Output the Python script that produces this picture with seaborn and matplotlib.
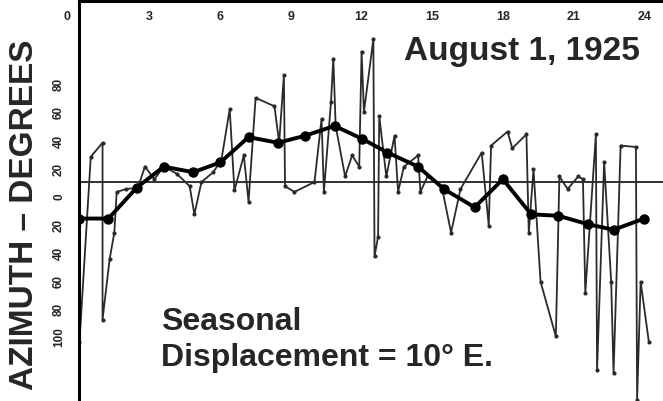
import matplotlib
matplotlib.use("Agg")
import matplotlib.pyplot as plt
import matplotlib.transforms as mtransforms
import seaborn as sns
import pandas as pd

# Raw (individual) azimuth readings, hours and degrees (E positive)
raw_hours = [0.02, 0.5, 1.0, 1.0, 1.3, 1.5, 1.6, 2.0, 2.5, 2.8, 3.2, 3.6, 4.15, 4.7,
             4.9, 5.2, 5.7, 6.05, 6.4, 6.6, 7.0, 7.2, 7.5, 8.3, 8.5, 8.7, 8.75, 9.15,
             10.0, 10.3, 10.4, 10.7, 10.8, 10.9, 11.3, 11.6, 11.9, 12.0, 12.1, 12.5,
             12.55, 12.7, 12.75, 13.05, 13.4, 13.55, 13.8, 14.4, 14.5, 14.8, 15.4,
             15.8, 16.2, 17.1, 17.4, 17.5, 18.2, 18.4, 19.0, 19.1, 19.3, 19.6, 20.25,
             20.4, 20.75, 21.2, 21.4, 21.5, 21.95, 22.0, 22.3, 22.6, 22.7, 23.0,
             23.65, 23.7, 23.85, 24.2]
raw_azimuth = [-104, 28, 38, -88, -45, -26, 3, 5, 6, 21, 12, 21, 16, 7,
               -13, 10, 17, 26, 62, 4, 29, -4, 70, 64, 38, 86, 7, 3,
               10, 55, 3, 67, 98, 50, 14, 29, 21, 103, 60, 112,
               -43, -29, 57, 14, 43, 3, 21, 29, 3, 14, 7,
               -26, 5, 31, -21, 36, 46, 34, 44, -26, 19, -61, -100,
               14, 5, 14, 12, -69, 44, -124, 24, -61, -126, 36,
               35, -145, -61, -104]

# Smoothed (mean) azimuth curve
mean_hours = [0.0, 1.25, 2.45, 3.6, 4.85, 6.0, 7.2, 8.45, 9.6, 10.85, 12.0, 13.1,
              14.4, 15.5, 16.8, 18.0, 19.2, 20.35, 21.6, 22.7, 24.0]
mean_azimuth = [-16, -16, 6, 21, 17, 24, 42, 38, 43, 50, 41, 31,
                21, 5, -8, 12, -13, -14, -20, -24, -16]

seasonal_displacement = 10

x_ticks = [0, 3, 6, 9, 12, 15, 18, 21, 24]
y_ticks = [80, 60, 40, 20, 0, -20, -40, -60, -80, -100]
y_tick_labels = ["80", "60", "40", "20", "0", "20", "40", "60", "80", "100"]

title_text = "August 1, 1925"
y_label = "AZIMUTH \u2013 DEGREES"

sns.set_style("white")
plt.rcParams['font.family'] = ['Liberation Sans', 'DejaVu Sans']
plt.rcParams['font.weight'] = 'bold'

fig = plt.figure(figsize=(6.63, 4.02), dpi=100)
ax = fig.add_axes([79 / 663, 0.0, 1 - 79 / 663, 1 - 2 / 402])

raw_df = pd.DataFrame({"hour": raw_hours, "azimuth": raw_azimuth})
mean_df = pd.DataFrame({"hour": mean_hours, "azimuth": mean_azimuth})

ax.axhline(seasonal_displacement, color="#222222", lw=1.3, zorder=1)

sns.lineplot(data=raw_df, x="hour", y="azimuth", ax=ax, estimator=None, sort=False,
             color="#2a2a2a", lw=1.3, marker="o", markersize=3,
             markeredgewidth=0, zorder=2)
sns.lineplot(data=mean_df, x="hour", y="azimuth", ax=ax, estimator=None, sort=False,
             color="black", lw=2.8, marker="o", markersize=7.5,
             markeredgewidth=0, zorder=3)

ax.set_xlim(0, 24.8)
ax.set_ylim(-146, 139)

ax.xaxis.tick_top()
ax.set_xticks(x_ticks)
ax.set_xticklabels([str(t) for t in x_ticks], fontsize=9, fontweight="bold")
ax.set_yticks(y_ticks)
ax.set_yticklabels(y_tick_labels, fontsize=8.5, fontweight="bold", rotation=90,
                   va="center")
ax.tick_params(axis="x", length=0, pad=-15)
ax.tick_params(axis="y", length=0, pad=10)

# shift the "0" hour label left of the vertical axis, as in the original
zero_label = ax.get_xticklabels()[0]
zero_label.set_transform(zero_label.get_transform() +
                         mtransforms.ScaledTranslation(-9 / 72, 0, fig.dpi_scale_trans))

ax.set_xlabel("")
ax.set_ylabel(y_label, fontsize=24, fontweight="bold")
ax.yaxis.set_label_coords(-0.066, 0.467)

for side in ["right", "bottom"]:
    ax.spines[side].set_visible(False)
ax.spines["left"].set_linewidth(2.2)
ax.spines["top"].set_linewidth(2.2)
ax.spines["left"].set_color("black")
ax.spines["top"].set_color("black")

ax.text(13.8, 98, title_text, fontsize=24, fontweight="bold", ha="left",
        va="baseline")
ax.text(3.5, -95, "Seasonal", fontsize=23, fontweight="bold", ha="left",
        va="baseline")
ax.text(3.5, -120, "Displacement = 10\u00b0 E.", fontsize=23, fontweight="bold",
        ha="left", va="baseline")

fig.savefig("out.png", dpi=100)
